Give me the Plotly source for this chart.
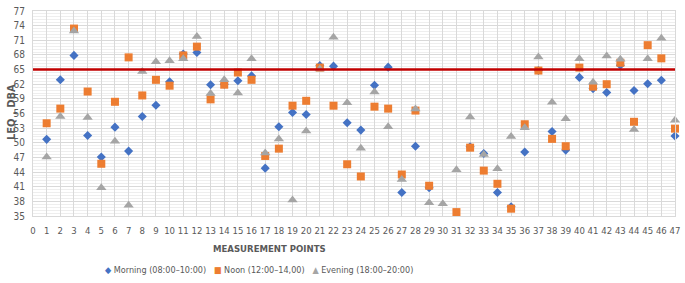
import plotly.graph_objects as go

points = list(range(1, 48))
morning = [50.7, 62.9, 67.9, 51.5, 47.1, 53.2, 48.3, 55.4, 57.7, 62.5,
           68.2, 68.5, 61.9, 62.0, 62.7, 63.7, 44.8, 53.3, 56.2, 55.8,
           65.8, 65.7, 54.1, 52.6, 61.8, 65.5, 39.8, 49.3, 40.8, None,
           None, 49.2, 47.8, 39.8, 36.9, 48.1, 64.8, 52.3, 48.5, 63.4,
           61.1, 60.3, 65.9, 60.7, 62.1, 62.8, 51.4]
noon = [54.0, 57.0, 73.4, 60.5, 45.7, 58.4, 67.5, 59.7, 62.9, 61.7,
        67.9, 69.7, 58.9, 61.9, 64.4, 62.9, 47.3, 48.8, 57.6, 58.6,
        65.4, 57.6, 45.6, 43.1, 57.4, 57.0, 43.5, 56.6, 41.2, None,
        35.8, 49.0, 44.3, 41.6, 36.5, 53.8, 64.8, 50.8, 49.3, 65.4,
        61.5, 62.0, 66.4, 54.3, 70.0, 67.3, 52.9]
evening = [47.1, 55.4, 72.9, 55.2, 40.8, 50.3, 37.2, 64.6, 66.6, 66.8,
           67.2, 71.8, 60.1, 62.9, 60.2, 67.2, 47.9, 50.8, 38.3, 52.4,
           65.1, 71.6, 58.2, 48.9, 60.4, 53.3, 42.5, 56.9, 37.7, 37.5,
           44.5, 55.3, 47.6, 44.7, 51.3, 53.1, 67.6, 58.3, 54.9, 67.2,
           62.4, 67.8, 67.1, 52.7, 67.2, 71.4, 54.6]
limit = 65
series_names = ["Morning (08:00\u201310:00)", "Noon (12:00\u201314,00)", "Evening (18:00\u201320:00)"]
x_ticks = list(range(0, 48))
y_ticks = list(range(35, 78, 3))

FONT = "DejaVu Sans Condensed, Liberation Sans Narrow, sans-serif"
GREY_TXT = "#595959"
colors = ["#4472C4", "#ED7D31", "#A5A5A5"]
symbols = ["diamond", "square", "triangle-up"]
sizes = [7, 8, 9]

fig = go.Figure()
for name, vals, c, s, sz in zip(series_names, [morning, noon, evening], colors, symbols, sizes):
    fig.add_trace(go.Scatter(x=points, y=vals, mode="markers", name=name,
                             marker=dict(color=c, symbol=s, size=sz, line=dict(width=0)),
                             showlegend=False, cliponaxis=False))

fig.add_hline(y=limit, line=dict(color="#C00000", width=2.5))

fig.update_xaxes(range=[0, 47], tickmode="array", tickvals=x_ticks,
                 ticktext=[str(v) for v in x_ticks], tickangle=0,
                 ticklabeloverflow="allow",
                 showgrid=True, gridcolor="#D9D9D9", gridwidth=1,
                 showline=True, linecolor="#D9D9D9", mirror=True,
                 zeroline=False, ticks="", ticklabelstandoff=6,
                 tickfont=dict(family=FONT, size=9.5, color=GREY_TXT))
fig.update_yaxes(range=[35, 77], tickmode="array", tickvals=y_ticks,
                 showgrid=True, gridcolor="#D9D9D9", gridwidth=1,
                 minor=dict(tick0=35, dtick=0.6, showgrid=True, gridcolor="#EEEEEE", gridwidth=1),
                 showline=True, linecolor="#D9D9D9", mirror=True,
                 zeroline=False, ticks="", ticklabelstandoff=5,
                 ticklabeloverflow="allow",
                 tickfont=dict(family=FONT, size=10, color=GREY_TXT))

legend_marks = ["\u25C6", "\u25A0", "\u25B2"]
legend_text = "\u00A0\u00A0\u00A0".join(
    f"<span style='color:{c}'>{m}</span> {n}" for c, m, n in zip(colors, legend_marks, series_names))

annotations = [
    dict(text="<b>LEQ , DBA</b>", x=-0.0335, y=0.51, xref="paper", yref="paper",
         textangle=-90, showarrow=False, xanchor="center", yanchor="middle",
         font=dict(family=FONT, size=11, color=GREY_TXT)),
    dict(text="<b>MEASUREMENT POINTS</b>", x=0.369, y=-0.158, xref="paper", yref="paper",
         showarrow=False, xanchor="center", yanchor="middle",
         font=dict(family=FONT, size=9.5, color=GREY_TXT)),
    dict(text=legend_text, x=0.352, y=-0.265, xref="paper", yref="paper",
         showarrow=False, xanchor="center", yanchor="middle",
         font=dict(family=FONT, size=9, color=GREY_TXT)),
]

fig.update_layout(width=685, height=283,
                  margin=dict(l=33, r=6, t=5, b=67),
                  paper_bgcolor="white", plot_bgcolor="white",
                  annotations=annotations)

fig.write_html("out.html", config={"displayModeBar": False},
               post_script="document.body.style.margin='0';document.body.style.padding='0';")
